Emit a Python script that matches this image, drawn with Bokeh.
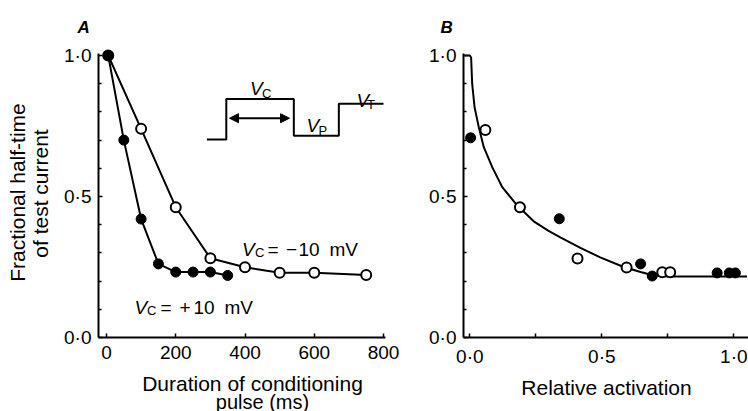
from bokeh.plotting import figure
from bokeh.models import Range1d, FixedTicker, CustomJSTickFormatter, Label, Arrow, NormalHead
from bokeh.layouts import row
from bokeh.embed import file_html
from bokeh.resources import INLINE

# ---------------- data ----------------
# Panel A: fractional half-time vs duration of conditioning pulse (ms)
a_plus10_x = [5, 50, 100, 150, 200, 250, 300, 350]
a_plus10_y = [1.0, 0.70, 0.42, 0.261, 0.232, 0.232, 0.232, 0.22]
a_minus10_x = [5, 100, 200, 300, 400, 500, 600, 750]
a_minus10_y = [1.0, 0.74, 0.462, 0.281, 0.249, 0.230, 0.230, 0.222]

# Panel B: fractional half-time vs relative activation
b_filled_x = [0.003, 0.339, 0.647, 0.691, 0.937, 0.983, 1.006]
b_filled_y = [0.708, 0.421, 0.261, 0.218, 0.229, 0.229, 0.229]
b_open_x = [0.059, 0.19, 0.408, 0.594, 0.729, 0.759]
b_open_y = [0.736, 0.462, 0.280, 0.248, 0.231, 0.231]
b_curve_x = [-0.02, 0.0, 0.005, 0.009, 0.018, 0.034, 0.053, 0.085, 0.123,
             0.18, 0.242, 0.30, 0.343, 0.419, 0.494, 0.583, 0.647, 0.697,
             0.75, 1.05]
b_curve_y = [1.0, 1.0, 0.993, 0.90, 0.817, 0.746, 0.675, 0.604, 0.533,
             0.468, 0.412, 0.377, 0.355, 0.318, 0.284, 0.250, 0.232, 0.220,
             0.216, 0.216]

# Inset voltage protocol (drawn in panel A data units)
inset_x = [290, 346, 346, 541, 541, 671, 671, 800]
inset_y = [0.702, 0.702, 0.846, 0.846, 0.715, 0.715, 0.829, 0.829]

a_xticks = [0, 200, 400, 600, 800]
b_xticks = [0.0, 0.5, 1.0]
b_xminor = [0.25, 0.75]
yticks = [0.0, 0.5, 1.0]
yminor = [0.1, 0.2, 0.3, 0.4, 0.6, 0.7, 0.8, 0.9]

FONT = "Liberation Sans"
W_A, W_B, H = 420, 328, 411


# page pixel -> data helpers (layout only)
def ax(px):
    return (px - 106) / 0.34625


def ay(py):
    return (337 - py) / 282


def bx(px):
    return (px - 469.3) / 264


def style(p, xticks, xminor, fmt_code, x_at, xb):
    p.outline_line_color = None
    p.xgrid.visible = False
    p.ygrid.visible = False
    p.background_fill_color = "white"
    p.border_fill_color = "white"
    p.xaxis.ticker = FixedTicker(ticks=xticks, minor_ticks=xminor)
    p.yaxis.ticker = FixedTicker(ticks=yticks, minor_ticks=yminor)
    p.yaxis.formatter = CustomJSTickFormatter(code="return tick.toFixed(1).replace('.', '\u00b7');")
    p.xaxis.formatter = CustomJSTickFormatter(code=fmt_code)
    p.xaxis.fixed_location = 0
    p.yaxis.fixed_location = x_at
    p.xaxis.bounds = xb
    p.yaxis.bounds = (0, ay(53))
    for a in p.axis:
        a.axis_line_width = 2
        a.axis_line_color = "black"
        a.major_tick_in = 4
        a.major_tick_out = 0
        a.minor_tick_in = 3
        a.minor_tick_out = 0
        a.major_tick_line_width = 1.5
        a.minor_tick_line_width = 1.5
        a.major_tick_line_color = "black"
        a.minor_tick_line_color = "black"
        a.major_label_text_font = FONT
        a.major_label_text_font_size = "19px"
        a.major_label_text_color = "black"
    p.xaxis.major_label_standoff = 8
    p.yaxis.major_label_standoff = 7


def lab(p, x, y, t, size="21px", style_="normal", align="left", angle=0.0):
    p.add_layout(Label(x=x, y=y, text=t, text_font=FONT, text_font_size=size,
                       text_font_style=style_, text_align=align, angle=angle,
                       text_baseline="alphabetic", text_color="black"))


def make_fig(w, xr):
    p = figure(width=w, height=H, output_backend="svg", toolbar_location=None,
               x_range=xr, y_range=Range1d(ay(H), ay(0)),
               min_border_left=0, min_border_right=0, min_border_top=0,
               min_border_bottom=0, title=None)
    return p


# ---------------- Panel A ----------------
pA = make_fig(W_A, Range1d(ax(0), ax(W_A)))
style(pA, a_xticks, [], "return tick.toFixed(0);", ax(98), (ax(98), ax(385)))

pA.line(a_minus10_x, a_minus10_y, line_color="black", line_width=2)
pA.line(a_plus10_x, a_plus10_y, line_color="black", line_width=2)
pA.scatter(a_minus10_x, a_minus10_y, marker="circle", size=10, fill_color="white",
           line_color="black", line_width=2)
pA.scatter(a_plus10_x, a_plus10_y, marker="circle", size=10, fill_color="black",
           line_color="black", line_width=1)

# inset protocol
pA.line(inset_x, inset_y, line_color="black", line_width=2)
pA.add_layout(Arrow(start=NormalHead(size=9, fill_color="black", line_color="black"),
                    end=NormalHead(size=9, fill_color="black", line_color="black"),
                    x_start=ax(229), y_start=ay(117.7), x_end=ax(289), y_end=ay(117.7),
                    line_width=2, line_color="black"))
lab(pA, ax(249.5), ay(88.3), "V", "19px", "italic")
lab(pA, ax(261.5), ay(93.3), "C", "13px")
lab(pA, ax(306), ay(125), "V", "19px", "italic")
lab(pA, ax(318), ay(130), "P", "13px")
lab(pA, ax(356), ay(100), "V", "19px", "italic")
lab(pA, ax(366.5), ay(104), "T", "13px")

# series labels
lab(pA, ax(241.5), ay(248.5), "V", "19px", "italic")
lab(pA, ax(254.5), ay(252), "C", "13px")
lab(pA, ax(267), ay(248.5), "=", "19px")
lab(pA, ax(285.5), ay(248.5), "\u2212", "19px")
lab(pA, ax(298), ay(248.5), "10", "19px")
lab(pA, ax(329), ay(248.5), "mV", "19px")

lab(pA, ax(134), ay(306.5), "V", "19px", "italic")
lab(pA, ax(146.5), ay(310), "C", "13px")
lab(pA, ax(160), ay(306.5), "=", "19px")
lab(pA, ax(179), ay(306.5), "+", "19px")
lab(pA, ax(193), ay(306.5), "10", "19px")
lab(pA, ax(224), ay(306.5), "mV", "19px")

# axis labels
lab(pA, ax(17), ay(192), "Fractional half-time", align="center", angle=1.5708)
lab(pA, ax(40), ay(193), "of test current", align="center", angle=1.5708)
lab(pA, ax(252), ay(383), "Duration of conditioning", "21px", align="center")
lab(pA, ax(262), ay(401), "pulse (ms)", "20px", align="center")
lab(pA, ax(77), ay(27), "A", "17px", "bold italic")

# ---------------- Panel B ----------------
pB = make_fig(W_B, Range1d(bx(W_A), bx(W_A + W_B)))
style(pB, b_xticks, b_xminor, "return tick.toFixed(1).replace('.', '\u00b7');",
      bx(463), (bx(463), bx(W_A + W_B)))
pB.xaxis.minor_tick_in = 4

pB.line(b_curve_x, b_curve_y, line_color="black", line_width=2)
pB.scatter(b_open_x, b_open_y, marker="circle", size=10, fill_color="white",
           line_color="black", line_width=2)
pB.scatter(b_filled_x, b_filled_y, marker="circle", size=10, fill_color="black",
           line_color="black", line_width=1)

lab(pB, bx(606), ay(387), "Relative activation", align="center")
lab(pB, bx(440), ay(27), "B", "17px", "bold italic")

layout = row(pA, pB)
open("out.html", "w").write(file_html(layout, INLINE))
